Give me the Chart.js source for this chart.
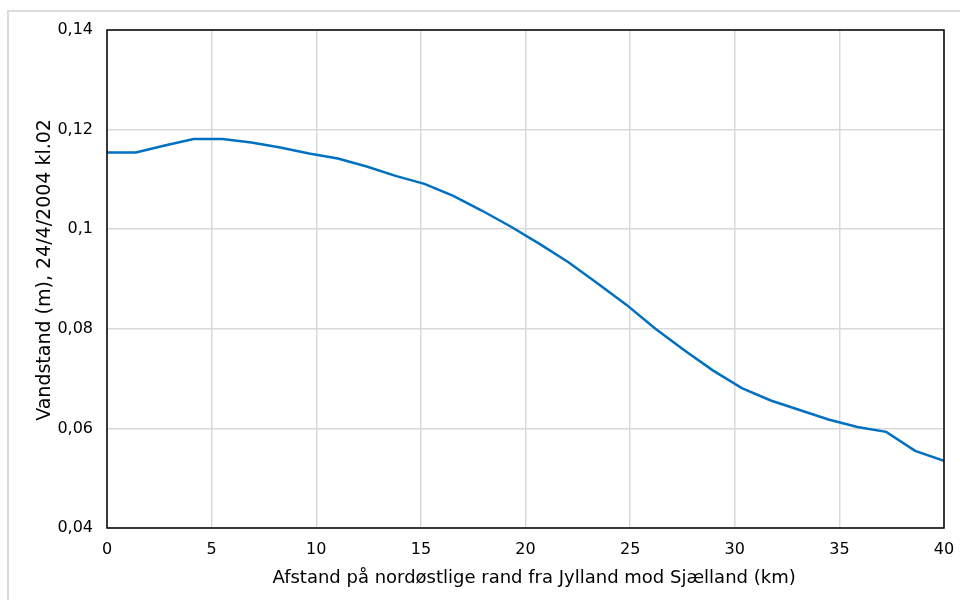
<!DOCTYPE html>
<html lang="da">
<head>
    <meta charset="UTF-8">
    <title>Vandstand langs nordøstlige rand</title>
    <style>
        body {
            margin: 0;
            background-color: #ffffff;
            font-family: "DejaVu Sans", Verdana, sans-serif;
            overflow: hidden;
        }
        .frame {
            position: absolute;
            left: 7px;
            top: 10px;
            width: 1000px;
            height: 700px;
            border-left: 2px solid #dcdcdc;
            border-top: 2px solid #dcdcdc;
        }
        canvas {
            position: absolute;
            left: 0;
            top: 0;
        }
    </style>
</head>
<body>
    <div class="frame"></div>
    <canvas id="vandChart" width="960" height="600"></canvas>

    <script src="https://cdn.jsdelivr.net/npm/chart.js"></script>

    <script>
        // afstand (km) og vandstand (m)
        const afstand = [0, 1.38, 2.76, 4.14, 5.52, 6.90, 8.28, 9.66, 11.03, 12.41,
            13.79, 15.17, 16.55, 17.93, 19.31, 20.69, 22.07, 23.45, 24.83, 26.21,
            27.59, 28.97, 30.34, 31.72, 33.10, 34.48, 35.86, 37.24, 38.62, 40];
        const vandstand = [0.1154, 0.1154, 0.1168, 0.1181, 0.1181, 0.1174, 0.1164, 0.1152, 0.1142, 0.1126,
            0.1107, 0.1091, 0.1067, 0.1037, 0.1005, 0.0970, 0.0933, 0.0891, 0.0848, 0.0800,
            0.0757, 0.0716, 0.0681, 0.0656, 0.0637, 0.0618, 0.0603, 0.0593, 0.0555, 0.0535];

        // titlerne sidder lidt skævt i originalen, derfor de foranstillede mellemrum
        const xTitel = '   Afstand på nordøstlige rand fra Jylland mod Sjælland (km)';
        const yTitel = '   Vandstand (m), 24/4/2004 kl.02';

        const punkter = afstand.map(function(x, i) {
            return { x: x, y: vandstand[i] };
        });

        // sort ramme rundt om plotområdet
        const plotRamme = {
            id: 'plotRamme',
            afterDraw: function(chart) {
                const a = chart.chartArea;
                const ctx = chart.ctx;
                ctx.save();
                ctx.strokeStyle = '#000000';
                ctx.lineWidth = 1.5;
                ctx.strokeRect(a.left, a.top, a.right - a.left, a.bottom - a.top);
                ctx.restore();
            }
        };

        new Chart(document.getElementById('vandChart').getContext('2d'), {
            type: 'line',
            data: {
                datasets: [{
                    data: punkter,
                    borderColor: '#0070c0',
                    borderWidth: 2.5,
                    pointRadius: 0,
                    fill: false,
                    tension: 0
                }]
            },
            options: {
                responsive: false,
                animation: false,
                layout: {
                    padding: { left: 0, top: 30, right: 16, bottom: 0 }
                },
                plugins: {
                    legend: { display: false },
                    tooltip: { enabled: false }
                },
                scales: {
                    x: {
                        type: 'linear',
                        min: 0,
                        max: 40,
                        afterFit: function(scale) {
                            scale.height = 72;
                            scale.paddingLeft = 0;
                            scale.paddingRight = 0;
                        },
                        ticks: {
                            stepSize: 5,
                            padding: 12,
                            color: '#000000',
                            font: { family: 'DejaVu Sans', size: 16 }
                        },
                        grid: {
                            color: '#d9d9d9',
                            lineWidth: 1.5,
                            drawTicks: false
                        },
                        border: { display: false },
                        title: {
                            display: true,
                            text: xTitel,
                            color: '#000000',
                            padding: { top: 0, bottom: 11 },
                            font: { family: 'DejaVu Sans', size: 18 }
                        }
                    },
                    y: {
                        min: 0.04,
                        max: 0.14,
                        afterFit: function(scale) { scale.width = 107; },
                        ticks: {
                            stepSize: 0.02,
                            padding: 14,
                            color: '#000000',
                            font: { family: 'DejaVu Sans', size: 16 },
                            callback: function(v) {
                                return Number(v.toFixed(2)).toString().replace('.', ',');
                            }
                        },
                        grid: {
                            color: '#d9d9d9',
                            lineWidth: 1.5,
                            drawTicks: false
                        },
                        border: { display: false },
                        title: {
                            display: true,
                            text: yTitel,
                            color: '#000000',
                            padding: { top: 34, bottom: 0 },
                            font: { family: 'DejaVu Sans', size: 19 }
                        }
                    }
                }
            },
            plugins: [plotRamme]
        });
    </script>
</body>
</html>
